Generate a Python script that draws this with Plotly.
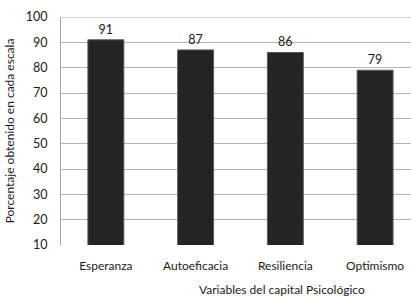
import plotly.graph_objects as go

categories = ["Esperanza", "Autoeficacia", "Resiliencia", "Optimismo"]
values = [91, 87, 86, 79]
y_ticks = [10, 20, 30, 40, 50, 60, 70, 80, 90, 100]

FONT = "Lato, 'Open Sans', sans-serif"
TXT = "#1a1a1a"

fig = go.Figure()
fig.add_trace(go.Bar(
    x=categories,
    y=values,
    width=0.4,
    marker=dict(color="#242424", line=dict(color="#5a5a5a", width=1)),
    text=[str(v) for v in values],
    textposition="outside",
    textfont=dict(family=FONT, size=12.5, color=TXT),
    cliponaxis=False,
))

fig.update_layout(
    width=411, height=296,
    margin=dict(l=61, r=0, t=17, b=51, autoexpand=False),
    plot_bgcolor="white",
    paper_bgcolor="white",
    showlegend=False,
    font=dict(family=FONT, size=12, color=TXT),
)
fig.update_xaxes(
    range=[-0.5, 3.4],
    automargin=False,
    showgrid=False,
    showline=False,
    ticks="",
    ticklabelstandoff=12,
    tickfont=dict(family=FONT, size=12, color=TXT),
)
fig.update_yaxes(
    range=[10, 100],
    automargin=False,
    tickvals=y_ticks,
    showgrid=True,
    gridcolor="#b3b3b3",
    gridwidth=1,
    showline=True,
    linecolor="#a6a6a6",
    zeroline=False,
    ticks="",
    ticklabelstandoff=10,
    tickfont=dict(family=FONT, size=12.5, color=TXT),
    title=dict(text="Porcentaje obtenido en cada escala", standoff=8,
               font=dict(family=FONT, size=12, color=TXT)),
)
# top border line of the plot area (at 100)
fig.add_shape(type="line", xref="paper", yref="y", x0=0, x1=1, y0=100, y1=100,
              line=dict(color="#b3b3b3", width=1), layer="below")
fig.add_annotation(
    text="Variables del capital Psicológico",
    xref="paper", yref="paper",
    x=(282 - 61) / 350, y=-(289 - 245) / 228,
    xanchor="center", yanchor="middle",
    showarrow=False,
    font=dict(family=FONT, size=12, color=TXT),
)
fig.write_html("out.html",
               config={"displayModeBar": False},
               post_script="document.body.style.margin='0';document.body.style.overflow='hidden';")
